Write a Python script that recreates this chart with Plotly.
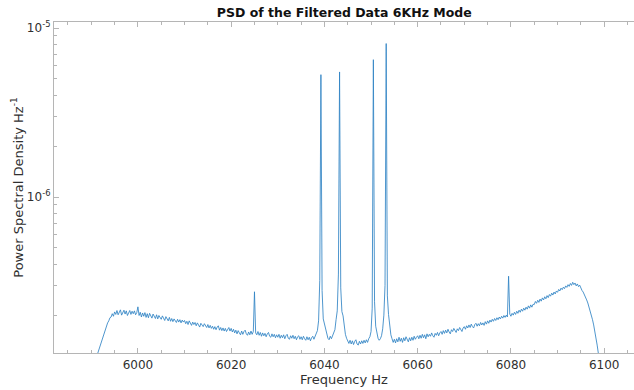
import plotly.graph_objects as go

# Frequency sampling: 5990 Hz to 6100 Hz, 0.25 Hz step
freq_start = 5990.0
freq_step = 0.25

# PSD values in units of 1e-7 Hz^-1 (rows of 5 Hz each)
psd_e7 = [
    0.80, 0.88, 0.96, 1.03, 1.10, 1.16, 1.22, 1.28, 1.36, 1.41, 1.50, 1.56, 1.66, 1.70, 1.80, 1.85, 1.93, 1.95, 2.04, 1.97,
    2.09, 2.02, 2.13, 2.01, 2.10, 2.15, 2.00, 2.08, 2.14, 2.03, 2.12, 1.99, 2.09, 2.13, 2.02, 2.11, 2.04, 2.12, 2.01, 2.07,
    2.24, 1.99, 2.08, 1.95, 2.06, 1.97, 2.07, 1.94, 2.04, 1.93, 2.05, 1.96, 1.92, 2.03, 1.95, 1.91, 2.01, 1.90, 1.99, 1.93,
    1.89, 1.98, 1.90, 1.86, 1.96, 1.88, 1.85, 1.94, 1.84, 1.91, 1.83, 1.90, 1.85, 1.81, 1.89, 1.82, 1.88, 1.80, 1.87, 1.82,
    1.86, 1.78, 1.84, 1.76, 1.85, 1.78, 1.74, 1.82, 1.76, 1.81, 1.73, 1.80, 1.75, 1.70, 1.79, 1.74, 1.71, 1.78, 1.73, 1.69,
    1.76, 1.68, 1.74, 1.67, 1.72, 1.65, 1.71, 1.64, 1.70, 1.73, 1.63, 1.69, 1.62, 1.68, 1.61, 1.67, 1.60, 1.66, 1.69, 1.61,
    1.67, 1.59, 1.65, 1.57, 1.63, 1.55, 1.62, 1.57, 1.53, 1.61, 1.54, 1.60, 1.63, 1.55, 1.52, 1.59, 1.53, 1.61, 1.54, 1.60,
    2.75, 1.57, 1.53, 1.60, 1.52, 1.58, 1.50, 1.57, 1.51, 1.56, 1.49, 1.55, 1.58, 1.50, 1.48, 1.55, 1.49, 1.54, 1.47, 1.53,
    1.48, 1.54, 1.46, 1.52, 1.47, 1.53, 1.45, 1.51, 1.54, 1.46, 1.44, 1.51, 1.46, 1.52, 1.45, 1.50, 1.43, 1.49, 1.51, 1.44,
    1.49, 1.43, 1.50, 1.45, 1.42, 1.49, 1.43, 1.48, 1.41, 1.47, 1.50, 1.44, 1.49, 1.53, 1.62, 1.85, 3.20, 53.0, 2.80, 1.90,
    1.78, 1.60, 1.50, 1.46, 1.43, 1.50, 1.45, 1.51, 1.54, 1.64, 1.88, 2.12, 3.50, 55.0, 2.90, 2.10, 1.98, 1.72, 1.54, 1.46,
    1.41, 1.36, 1.42, 1.35, 1.41, 1.34, 1.40, 1.43, 1.35, 1.33, 1.40, 1.35, 1.41, 1.36, 1.42, 1.37, 1.43, 1.38, 1.45, 1.49,
    1.60, 2.20, 65.0, 2.40, 1.72, 1.53, 1.46, 1.42, 1.45, 1.51, 1.66, 2.00, 3.00, 81.0, 2.60, 2.02, 1.72, 1.53, 1.45, 1.38,
    1.44, 1.37, 1.45, 1.39, 1.48, 1.40, 1.46, 1.38, 1.47, 1.41, 1.49, 1.43, 1.39, 1.47, 1.41, 1.48, 1.42, 1.50, 1.44, 1.48,
    1.51, 1.45, 1.52, 1.46, 1.54, 1.47, 1.53, 1.45, 1.55, 1.49, 1.54, 1.50, 1.57, 1.51, 1.48, 1.56, 1.52, 1.58, 1.51, 1.57,
    1.60, 1.54, 1.62, 1.56, 1.63, 1.57, 1.65, 1.59, 1.55, 1.64, 1.60, 1.67, 1.61, 1.58, 1.66, 1.62, 1.69, 1.63, 1.60, 1.68,
    1.71, 1.65, 1.73, 1.68, 1.75, 1.69, 1.77, 1.71, 1.68, 1.76, 1.79, 1.72, 1.78, 1.73, 1.81, 1.75, 1.80, 1.74, 1.83, 1.77,
    1.85, 1.79, 1.87, 1.82, 1.89, 1.84, 1.91, 1.86, 1.93, 1.88, 1.95, 1.90, 1.97, 1.92, 1.99, 1.94, 2.00, 1.95, 3.40, 2.03,
    1.97, 2.05, 2.00, 2.08, 2.02, 2.11, 2.05, 2.14, 2.08, 2.17, 2.11, 2.20, 2.14, 2.23, 2.17, 2.27, 2.20, 2.30, 2.23, 2.32,
    2.31, 2.41, 2.35, 2.45, 2.38, 2.49, 2.42, 2.53, 2.46, 2.57, 2.50, 2.61, 2.54, 2.65, 2.59, 2.70, 2.63, 2.74, 2.67, 2.78,
    2.73, 2.84, 2.78, 2.89, 2.83, 2.93, 2.87, 2.98, 2.92, 3.03, 2.96, 3.08, 3.00, 3.13, 3.03, 3.10, 2.98, 3.06, 2.95, 3.01,
    2.88, 2.80, 2.74, 2.66, 2.55, 2.46, 2.36, 2.24, 2.12, 2.00, 1.88, 1.75, 1.62, 1.48, 1.33, 1.19, 1.05, 0.92, 0.80, 0.70,
    0.60,
]

x_tick_vals = [6000, 6020, 6040, 6060, 6080, 6100]
y_tick_vals = [1e-6, 1e-5]
y_tick_text = ["10<sup>-6</sup>", "10<sup>-5</sup>"]
y_minor_vals = [2e-7, 3e-7, 4e-7, 5e-7, 6e-7, 7e-7, 8e-7, 9e-7,
                2e-6, 3e-6, 4e-6, 5e-6, 6e-6, 7e-6, 8e-6, 9e-6]

freq = [freq_start + freq_step * i for i in range(len(psd_e7))]
psd = [v * 1e-7 for v in psd_e7]

fig = go.Figure()
fig.add_trace(go.Scatter(
    x=freq, y=psd, mode="lines",
    line=dict(color="#2f83c4", width=0.85),
    showlegend=False,
))

axis_color = "#b5b5b5"
font_color = "#303030"

fig.update_layout(
    width=634, height=390,
    margin=dict(l=54, r=0, t=22, b=37),
    paper_bgcolor="white", plot_bgcolor="white",
    font=dict(family="DejaVu Sans", size=12, color=font_color),
    title=dict(
        text="<b>PSD of the Filtered Data 6KHz Mode</b>",
        x=0.543, xanchor="center", y=0.968, yanchor="middle",
        font=dict(size=12.5, color="#111111"),
    ),
    xaxis=dict(
        range=[5982.0, 6106.4],
        tickvals=x_tick_vals,
        ticks="inside", ticklen=5, tickcolor=axis_color,
        showline=True, linecolor=axis_color, linewidth=1.2,
        mirror="ticks", showgrid=False, zeroline=False,
        minor=dict(dtick=5, ticks="inside", ticklen=3, tickcolor=axis_color, showgrid=False),
        title=dict(text="Frequency Hz", standoff=4, font=dict(size=13)),
        tickfont=dict(size=12),
    ),
    yaxis=dict(
        type="log",
        range=[-6.923, -4.964],
        tickvals=y_tick_vals, ticktext=y_tick_text,
        ticks="inside", ticklen=5, tickcolor=axis_color,
        showline=True, linecolor=axis_color, linewidth=1.2,
        showgrid=False, zeroline=False,
        minor=dict(tickvals=y_minor_vals, ticks="inside", ticklen=3, tickcolor=axis_color, showgrid=False),
        title=dict(text="Power Spectral Density Hz<sup>-1</sup>", standoff=0, font=dict(size=13)),
        tickfont=dict(size=12),
    ),
)

fig.write_html("out.html")
